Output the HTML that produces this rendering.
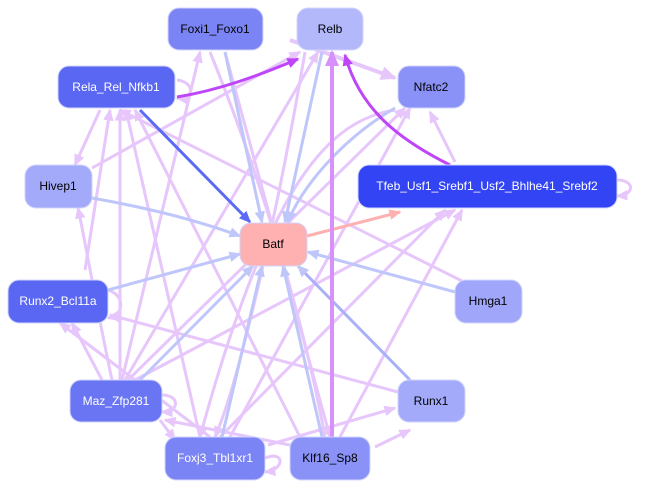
<!DOCTYPE html>
<html><head><meta charset="utf-8"><style>
body{margin:0;background:#fff;width:649px;height:489px;overflow:hidden}
text{font-family:"Liberation Sans",sans-serif;font-size:12px;text-anchor:middle;dominant-baseline:central}
</style></head><body>
<svg width="649" height="489" viewBox="0 0 649 489" xmlns="http://www.w3.org/2000/svg">
<defs>
<marker id="ml" markerWidth="4" markerHeight="3.5" refX="3.5" refY="1.75" orient="auto" markerUnits="strokeWidth"><path d="M0,0L4,1.75L0,3.5z" fill="#e6c6fb"/></marker>
<marker id="mb" markerWidth="4" markerHeight="3.5" refX="3.5" refY="1.75" orient="auto" markerUnits="strokeWidth"><path d="M0,0L4,1.75L0,3.5z" fill="#bfc6fa"/></marker>
<marker id="md" markerWidth="4" markerHeight="3.5" refX="3.5" refY="1.75" orient="auto" markerUnits="strokeWidth"><path d="M0,0L4,1.75L0,3.5z" fill="#5a6af5"/></marker>
<marker id="mp" markerWidth="4" markerHeight="3.5" refX="3.5" refY="1.75" orient="auto" markerUnits="strokeWidth"><path d="M0,0L4,1.75L0,3.5z" fill="#bf45f8"/></marker>
<marker id="ms" markerWidth="4" markerHeight="3.5" refX="3.5" refY="1.75" orient="auto" markerUnits="strokeWidth"><path d="M0,0L4,1.75L0,3.5z" fill="#ffb0b0"/></marker>
<marker id="mm" markerWidth="4" markerHeight="3.5" refX="3.5" refY="1.75" orient="auto" markerUnits="strokeWidth"><path d="M0,0L4,1.75L0,3.5z" fill="#d890fa"/></marker>
</defs>
<g fill="none" stroke-width="3" stroke="#e6c6fb" marker-end="url(#ml)">
<path d="M120,380L120,110"/><path d="M122,380L200,52"/><path d="M125,380L318,52"/>
<path d="M128,380L405,108"/><path d="M135,380L455,210"/><path d="M102,380L72,323"/>
<path d="M112,380C95,300 85,240 78,208"/><path d="M200,437L126,110"/><path d="M220,437L445,210"/>
<path d="M230,437L410,108"/><path d="M300,437L135,110"/><path d="M340,437L462,210"/>
<path d="M375,447L410,430"/><path d="M268,445L395,408"/><path d="M398,392L110,315"/>
<path d="M210,52C250,150 300,300 325,437"/><path d="M225,52L330,437"/><path d="M92,168L300,52"/>
<path d="M100,110L75,165"/><path d="M455,162L430,112"/><path d="M160,420L175,440"/>
<path d="M290,445L165,420"/><path d="M395,110C330,120 270,180 200,437"/>
<path d="M305,52C280,200 240,380 215,437"/><path d="M85,270L110,110"/><path d="M480,290L120,110"/>
<path d="M290,40L395,78" stroke-width="4"/><path d="M210,437L60,323"/>
<path d="M345,20C365,15 370,40 345,38"/><path d="M177,80C195,82 195,100 177,98"/>
<path d="M617,180C635,180 635,195 617,196"/><path d="M108,290C125,295 125,315 108,318"/>
<path d="M162,395C180,395 180,412 162,412"/><path d="M265,458C285,450 285,470 265,472"/>
</g>
<g fill="none" stroke-width="3" stroke="#bfc6fa" marker-end="url(#mb)">
<path d="M225,52L262,222"/><path d="M322,52L285,222"/><path d="M395,108C340,140 300,190 288,222"/>
<path d="M92,198C160,210 210,225 240,236"/><path d="M108,290L240,254"/><path d="M140,380L253,266"/>
<path d="M222,437L262,266"/><path d="M322,437L283,266"/><path d="M455,292L308,252"/>
<path d="M410,380L298,266" stroke="#a8b0f8"/>
</g>
<path d="M140,110L250,222" stroke="#5a6af5" stroke-width="3" fill="none" marker-end="url(#md)"/>
<path d="M307,236L400,212" stroke="#ffb0b0" stroke-width="3" fill="none" marker-end="url(#ms)"/>
<g fill="none" stroke-width="3" stroke="#bf45f8" marker-end="url(#mp)">
<path d="M177,97C220,90 260,75 298,59"/><path d="M450,165C400,140 360,110 345,55"/>
</g>
<path d="M332,437L332,52" stroke="#d890fa" stroke-width="4" fill="none" marker-end="url(#mm)"/>
<g stroke="#d0d4fc" stroke-width="1">
<rect x="168" y="8" width="95" height="42" rx="11" fill="#7b84f5"/>
<rect x="297" y="8" width="66" height="42" rx="11" fill="#b3b8fb"/>
<rect x="58" y="66" width="117" height="42" rx="11" fill="#5a67f2"/>
<rect x="398" y="66" width="67" height="42" rx="11" fill="#8a92f7"/>
<rect x="25" y="165" width="67" height="43" rx="11" fill="#a4aafa"/>
<rect x="358" y="165" width="259" height="43" rx="11" fill="#3344f5"/>
<rect x="240" y="223" width="67" height="43" rx="11" fill="#ffb0b0"/>
<rect x="8" y="280" width="100" height="43" rx="11" fill="#5a67f2"/>
<rect x="455" y="280" width="67" height="43" rx="11" fill="#a0a6fa"/>
<rect x="70" y="380" width="92" height="42" rx="11" fill="#6a75f3"/>
<rect x="398" y="380" width="67" height="42" rx="11" fill="#a4aafa"/>
<rect x="165" y="437" width="100" height="43" rx="11" fill="#7b84f5"/>
<rect x="290" y="437" width="80" height="43" rx="11" fill="#8a92f7"/>
</g>
<text x="215" y="29">Foxi1_Foxo1</text><text x="330" y="29">Relb</text>
<text x="116" y="87" fill="#fff">Rela_Rel_Nfkb1</text><text x="431" y="87">Nfatc2</text>
<text x="58" y="186">Hivep1</text><text x="487" y="186" fill="#fff">Tfeb_Usf1_Srebf1_Usf2_Bhlhe41_Srebf2</text>
<text x="273" y="244">Batf</text><text x="58" y="301" fill="#fff">Runx2_Bcl11a</text>
<text x="488" y="301">Hmga1</text><text x="116" y="401" fill="#fff">Maz_Zfp281</text>
<text x="431" y="401">Runx1</text><text x="215" y="458" fill="#fff">Foxj3_Tbl1xr1</text>
<text x="330" y="458">Klf16_Sp8</text>
</svg>
</body></html>
